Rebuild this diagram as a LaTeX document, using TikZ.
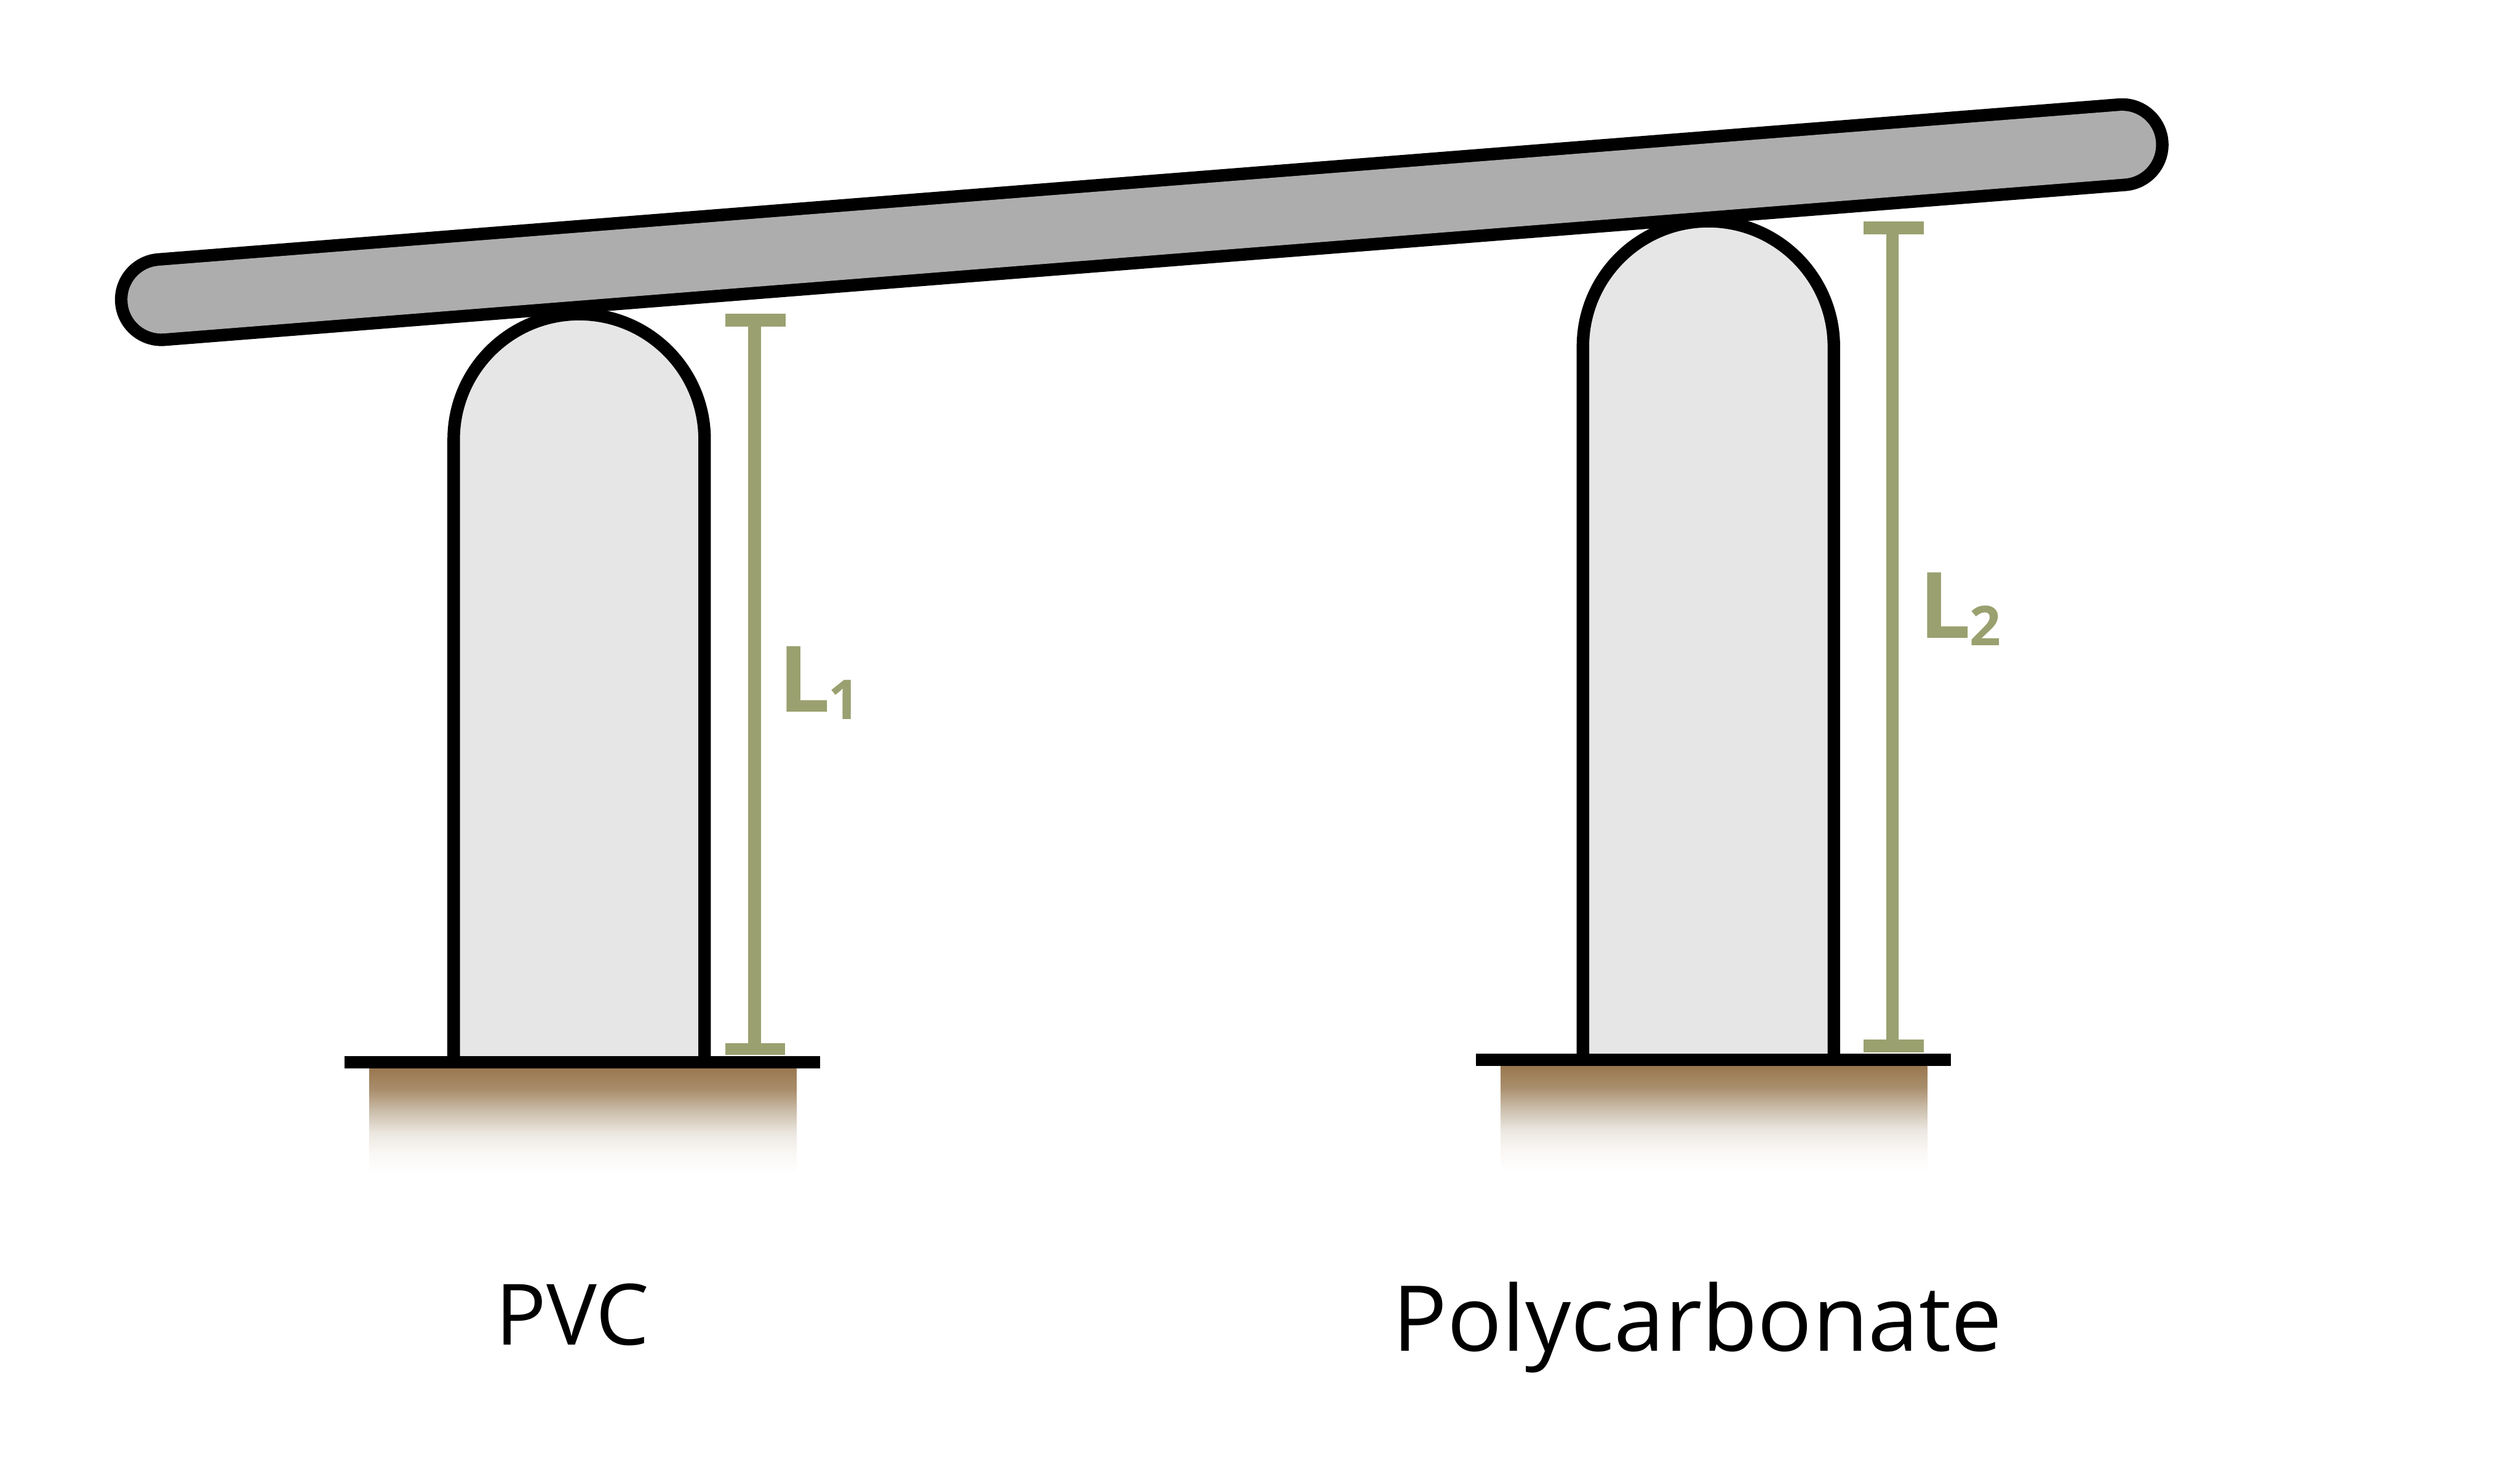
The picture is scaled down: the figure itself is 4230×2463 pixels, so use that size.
\documentclass[tikz,border=0pt]{standalone}
\usepackage{fontspec}
\setmainfont{Open Sans}
\definecolor{beamgray}{HTML}{ADADAD}
\definecolor{columngray}{HTML}{E6E6E6}
\definecolor{olive}{HTML}{9AA06F}
\definecolor{soila}{HTML}{9A7850}
\definecolor{soilb}{HTML}{A98E6C}
\definecolor{soilc}{HTML}{CBBEAB}
\definecolor{soild}{HTML}{EBE6DF}
\definecolor{soile}{HTML}{FAF8F6}
\pgfdeclareverticalshading{soilgrad}{100bp}{
  color(0bp)=(white);
  color(25bp)=(white);
  color(35bp)=(soile);
  color(45bp)=(soild);
  color(55bp)=(soilc);
  color(65bp)=(soilb);
  color(75bp)=(soila);
  color(100bp)=(soila)}
\tikzset{
  x=0.01cm, y=-0.01cm,
  outline/.style={draw=black, line width=0.21cm},
  column/.style={outline, fill=columngray, line join=round},
  ground/.style={line width=0.21cm, draw=black},
  soil/.style={shading=soilgrad, draw=none},
  dimline/.style={draw=olive, line width=0.21cm},
  dimcap/.style={fill=olive, draw=none},
  material/.style={inner sep=0pt, anchor=base, text=black},
  dimlabel/.style={inner sep=0pt, anchor=base west, text=olive, font=\bfseries\fontsize{43.8}{50}\selectfont},
  dimsub/.style={inner sep=0pt, anchor=base west, text=olive, font=\bfseries\fontsize{26.2}{30}\selectfont},
}
\begin{document}
\begin{tikzpicture}
\useasboundingbox (0,0) rectangle (4230,2463);
\fill[white] (0,0) rectangle (4230,2463);
% soil
\path[soil] (620,1794) rectangle (1337,1973);
\path[soil] (2519,1790) rectangle (3235,1968);
% columns
\draw[column] (761.5,1783) -- (761.5,738) arc[start angle=180,end angle=0,radius=2.105cm] -- ++(0,1045);
\draw[column] (2657,1779.5) -- (2657,582) arc[start angle=180,end angle=0,radius=2.105cm] -- ++(0,1197.5);
% beam
\coordinate (beamL) at (271,503);
\coordinate (beamR) at (3562,243);
\draw[line width=1.56cm, line cap=round, black] (beamL) -- (beamR);
\draw[line width=1.14cm, line cap=round, beamgray] (beamL) -- (beamR);
% ground lines
\draw[ground] (578,1783.5) -- (1377,1783.5);
\draw[ground] (2477,1779.5) -- (3275,1779.5);
% dimension 1
\coordinate (d1t) at (1266.5,548);
\coordinate (d1b) at (1266.5,1751);
\draw[dimline] (d1t) -- (d1b);
\fill[dimcap] (1218,527) rectangle (1319,548);
\fill[dimcap] (1218,1751) rectangle (1318,1771.5);
% dimension 2
\coordinate (d2t) at (3176.5,393);
\coordinate (d2b) at (3176.5,1745);
\draw[dimline] (d2t) -- (d2b);
\fill[dimcap] (3128,372) rectangle (3229,393);
\fill[dimcap] (3128,1745) rectangle (3229,1766.5);
% labels
\node[dimlabel] (l1) at (1306,1195) {L};
\node[dimsub] (l1s) at (1390,1208) {1};
\node[dimlabel] (l2) at (3221,1071) {L};
\node[dimsub] (l2s) at (3306,1084) {2};
\node[material, font=\fontsize{40.4}{48}\selectfont] (pvc) at (961,2258) {PVC};
\node[material, font=\fontsize{43.4}{52}\selectfont] (pc) at (2849,2268) {Polycarbonate};
\end{tikzpicture}
\end{document}
